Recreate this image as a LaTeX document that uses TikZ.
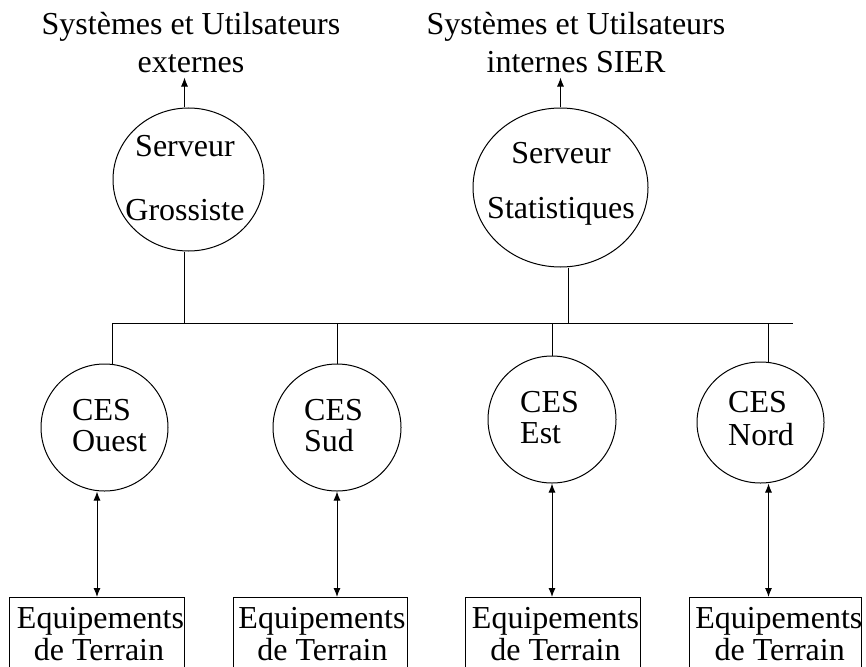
\documentclass[tikz,border=0pt]{standalone}
\usepackage{fontspec}
\setmainfont{Liberation Serif}
\usetikzlibrary{shapes.geometric,arrows.meta}
\begin{document}
\begin{tikzpicture}[x=1pt,y=-1pt,
  every node/.style={font=\fontsize{32}{38}\selectfont, inner sep=0pt},
  ln/.style={line width=1pt},
  arr/.style={ln,-{Latex[length=9pt,width=7pt]}},
  darr/.style={ln,{Latex[length=9pt,width=7pt]}-{Latex[length=9pt,width=7pt]}},
  oval/.style={draw, ellipse, line width=1pt},
  boxn/.style={draw, rectangle, line width=1pt, anchor=north, minimum height=100pt},
  txt/.style={anchor=base},
  ltxt/.style={anchor=base west}]
\useasboundingbox (0,0) rectangle (866,666);
\clip (0,0) rectangle (866,666);

% titles
\node[txt, align=center] (ext) at (191,73) {Systèmes et Utilsateurs\\externes};
\node[txt, align=center] (int) at (576,73) {Systèmes et Utilsateurs\\internes SIER};

% servers
\node[oval, minimum width=151pt, minimum height=143pt] (gros) at (188.5,179.5) {};
\node[txt] (gros1) at (185,156) {Serveur};
\node[txt] (gros2) at (185,220) {Grossiste};
\node[oval, minimum width=175pt, minimum height=159pt] (stat) at (560.5,187.5) {};
\node[txt] (stat1) at (561,163) {Serveur};
\node[txt] (stat2) at (561,218) {Statistiques};

\draw[arr] ([xshift=-4pt]gros.north) -- ([xshift=-4pt,yshift=-4pt]gros.north |- ext.south);
\draw[arr] (stat.north) -- ([yshift=-4pt]stat.north |- int.south);

% bus
\coordinate (busL) at (112,323);
\coordinate (busR) at (793,323);
\draw[ln] (busL) -- (busR);
\draw[ln] ([xshift=-4pt]gros.south) -- ([xshift=-4pt]gros.south |- busL);
\draw[ln] ([xshift=7.5pt]stat.south) -- ([xshift=7.5pt]stat.south |- busL);

% CES
\node[oval, minimum width=127pt, minimum height=127pt] (ouest) at (104.5,427.5) {};
\node[oval, minimum width=128pt, minimum height=127pt] (sud) at (337,427.5) {};
\node[oval, minimum width=128pt, minimum height=127pt] (est) at (552,419.5) {};
\node[oval, minimum width=127pt, minimum height=121pt] (nord) at (760.5,422.5) {};

\draw[ln] (busL) -- (busL |- ouest.north);
\draw[ln] (sud.north |- busL) -- (sud.north);
\draw[ln] (est.north |- busL) -- (est.north);
\draw[ln] ([xshift=7.5pt]nord.north |- busL) -- ([xshift=7.5pt]nord.north);

\node[ltxt] (o1) at (72,420) {CES};
\node[ltxt] (o2) at (72,451) {Ouest};
\node[ltxt] (s1) at (304,420) {CES};
\node[ltxt] (s2) at (304,451) {Sud};
\node[ltxt] (e1) at (520,412) {CES};
\node[ltxt] (e2) at (520,443) {Est};
\node[ltxt] (n1) at (728,412) {CES};
\node[ltxt] (n2) at (728,445) {Nord};

% boxes
\node[boxn, minimum width=175pt] (b1) at (96.5,597) {};
\node[boxn, minimum width=174pt] (b2) at (320,597) {};
\node[boxn, minimum width=175pt] (b3) at (552.5,597) {};
\node[boxn, minimum width=172pt] (b4) at (775,597) {};

\node[txt] (b1a) at (100.5,628) {Equipements};
\node[txt] (b1b) at (99,660) {de Terrain};
\node[txt] (b2a) at (322,628) {Equipements};
\node[txt] (b2b) at (322.5,660) {de Terrain};
\node[txt] (b3a) at (555.5,628) {Equipements};
\node[txt] (b3b) at (555.5,660) {de Terrain};
\node[txt] (b4a) at (778.8,628) {Equipements};
\node[txt] (b4b) at (779.7,660) {de Terrain};

\draw[darr] ([xshift=-7.5pt]ouest.south) -- ([xshift=-7.5pt]ouest.south |- b1.north);
\draw[darr] (sud.south) -- (sud.south |- b2.north);
\draw[darr] (est.south) -- (est.south |- b3.north);
\draw[darr] ([xshift=8pt]nord.south) -- ([xshift=8pt]nord.south |- b4.north);
\end{tikzpicture}
\end{document}
